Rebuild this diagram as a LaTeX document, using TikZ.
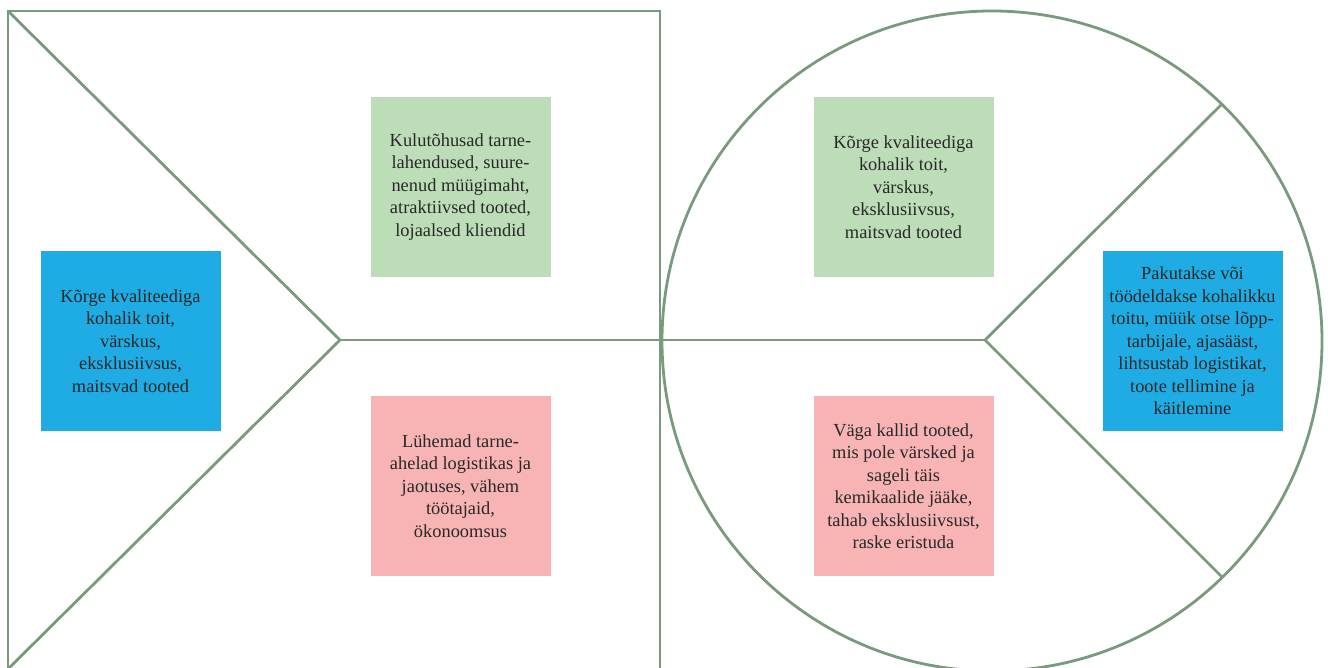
\documentclass[tikz,border=0pt]{standalone}
\usepackage{fontspec}
\setmainfont{Liberation Serif}
\definecolor{frame}{RGB}{122,154,126}
\definecolor{bluebox}{RGB}{31,171,227}
\definecolor{greenbox}{RGB}{189,221,184}
\definecolor{pinkbox}{RGB}{248,180,180}
\definecolor{txt}{RGB}{40,40,40}
\tikzset{
  frameline/.style={draw=frame, line width=2.8pt, line join=miter},
  card/.style={rectangle, minimum width=180pt, minimum height=180pt, inner sep=0pt,
    align=center, text=txt, font=\fontsize{18.4}{22.5}\selectfont},
  bluecard/.style={card, fill=bluebox},
  greencard/.style={card, fill=greenbox},
  pinkcard/.style={card, fill=pinkbox},
}
\begin{document}
\begin{tikzpicture}[x=1pt,y=-1pt]
\useasboundingbox (0,0) rectangle (1328,668);
% coordinates
\coordinate (sqBL) at (8,680);
\coordinate (sqTL) at (8,11);
\coordinate (sqTR) at (660,11);
\coordinate (sqBR) at (660,680);
\coordinate (vtip) at (340,340);
\coordinate (vlow) at (8,669);
\coordinate (cc) at (992,341);
\coordinate (rtip) at (985,340);
\coordinate (rup) at (1222,104);
\coordinate (rdown) at (1222,577);
% square
\draw[frameline] (sqBL) -- (sqTL) -- (sqTR) -- (sqBR);
\draw[frameline] (sqTL) -- (vtip) -- (vlow);
% circle
\draw[frameline] (cc) circle[radius=330];
\draw[frameline] (vtip) -- (rtip);
\draw[frameline] (rup) -- (rtip) -- (rdown);
% cards
\node[bluecard] (lb) at (130.5,341) {Kõrge kvaliteediga\\kohalik toit,\\värskus,\\eksklusiivsus,\\maitsvad tooted};
\node[greencard] (lg) at (460.5,187) {Kulutõhusad tarne-\\lahendused, suure-\\nenud müügimaht,\\atraktiivsed tooted,\\lojaalsed kliendid};
\node[pinkcard] (lp) at (460.5,486) {Lühemad tarne-\\ahelad logistikas ja\\jaotuses, vähem\\töötajaid,\\ökonoomsus};
\node[greencard] (rg) at (903.5,187) {Kõrge kvaliteediga\\kohalik toit,\\värskus,\\eksklusiivsus,\\maitsvad tooted};
\node[pinkcard] (rp) at (903.5,486) {Väga kallid tooted,\\mis pole värsked ja\\sageli täis\\kemikaalide jääke,\\tahab eksklusiivsust,\\raske eristuda};
\node[bluecard] (rb) at (1192.5,341) {Pakutakse või\\töödeldakse kohalikku\\toitu, müük otse lõpp-\\tarbijale, ajasääst,\\lihtsustab logistikat,\\toote tellimine ja\\käitlemine};
\end{tikzpicture}
\end{document}
